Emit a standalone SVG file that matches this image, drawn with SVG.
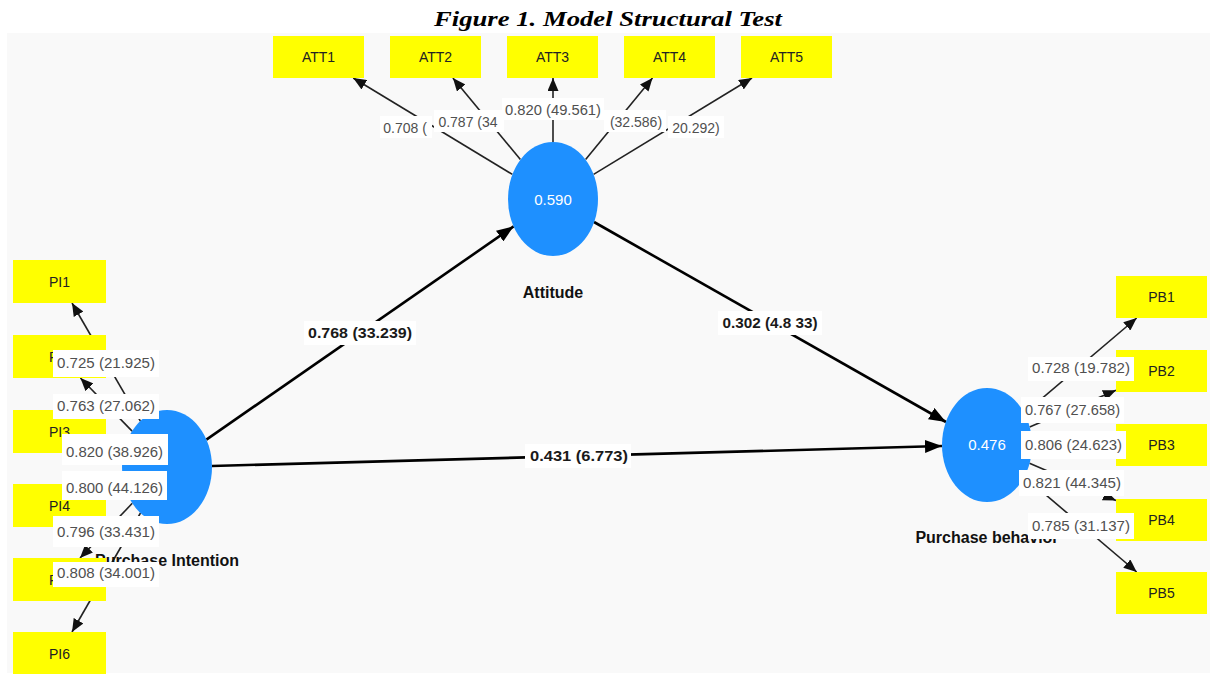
<svg xmlns="http://www.w3.org/2000/svg" width="1210" height="675" viewBox="0 0 1210 675">
<defs>
<marker id="ah" markerUnits="userSpaceOnUse" markerWidth="13" markerHeight="11" refX="13" refY="5.5" orient="auto"><path d="M0,0 L13,5.5 L0,11 z" fill="#111"/></marker>
<marker id="ahm" markerUnits="userSpaceOnUse" markerWidth="17" markerHeight="13" refX="17" refY="6.5" orient="auto"><path d="M0,0 L17,6.5 L0,13 z" fill="#000"/></marker>
</defs>
<style>
.title{font-family:"Liberation Serif",serif;font-weight:bold;font-style:italic;font-size:22px;fill:#000}
.outer{stroke:#222;stroke-width:1.6;fill:none}
.main{stroke:#000;stroke-width:2.6;fill:none}
.box{fill:#ffff00}
.lv{fill:#1e90ff}
.bt{font-family:"Liberation Sans",sans-serif;font-size:14px;fill:#222;text-anchor:middle}
.r2{font-family:"Liberation Sans",sans-serif;font-size:15px;fill:#fff;text-anchor:middle}
.nm{font-family:"Liberation Sans",sans-serif;font-weight:bold;font-size:16px;fill:#111;text-anchor:middle}
.lb{fill:#fff}
.lt{font-family:"Liberation Sans",sans-serif;font-size:14px;fill:#505050;text-anchor:middle}
.pt{font-family:"Liberation Sans",sans-serif;font-weight:bold;font-size:15px;fill:#1a1a1a;text-anchor:middle}
</style>
<rect x="0" y="0" width="1210" height="675" fill="#fff"/>
<text class="title" x="608" y="26" text-anchor="middle" textLength="348" lengthAdjust="spacingAndGlyphs">Figure 1. Model Structural Test</text>
<rect x="7" y="33" width="1203" height="640" fill="#f9f9f9"/>

<g id="connectors">
<line class="outer" x1="512.4" y1="174.4" x2="353.2" y2="78" marker-end="url(#ah)"/>
<line class="outer" x1="520.4" y1="159.6" x2="452.9" y2="78" marker-end="url(#ah)"/>
<line class="outer" x1="553" y1="142" x2="553" y2="78" marker-end="url(#ah)"/>
<line class="outer" x1="585.6" y1="159.6" x2="652.5" y2="78" marker-end="url(#ah)"/>
<line class="outer" x1="593.6" y1="174.4" x2="752" y2="78" marker-end="url(#ah)"/>
<line class="outer" x1="140.4" y1="421.1" x2="72" y2="303" marker-end="url(#ah)"/>
<line class="outer" x1="132.1" y1="431.1" x2="80.4" y2="378" marker-end="url(#ah)"/>
<line class="outer" x1="123.4" y1="452.6" x2="106" y2="446.9" marker-end="url(#ah)"/>
<line class="outer" x1="123.7" y1="482.5" x2="106" y2="488.8" marker-end="url(#ah)"/>
<line class="outer" x1="132.3" y1="503.3" x2="80" y2="558" marker-end="url(#ah)"/>
<line class="outer" x1="140.5" y1="513" x2="72" y2="632" marker-end="url(#ah)"/>
<line class="outer" x1="1024.4" y1="413.3" x2="1136.7" y2="318" marker-end="url(#ah)"/>
<line class="outer" x1="1029.6" y1="426.9" x2="1116" y2="390.3" marker-end="url(#ah)"/>
<line class="outer" x1="1032" y1="445" x2="1116" y2="445" marker-end="url(#ah)"/>
<line class="outer" x1="1029.5" y1="463.3" x2="1116" y2="500.4" marker-end="url(#ah)"/>
<line class="outer" x1="1024.4" y1="476.7" x2="1136.7" y2="572" marker-end="url(#ah)"/>
<line class="main" x1="206.4" y1="439.6" x2="513.6" y2="226.4" marker-end="url(#ahm)"/>
<line class="main" x1="212" y1="466" x2="942" y2="446" marker-end="url(#ahm)"/>
<line class="main" x1="594" y1="222" x2="946" y2="422" marker-end="url(#ahm)"/>
</g>

<g id="attitude"><ellipse class="lv" cx="553" cy="199" rx="45" ry="57"/><text class="r2" x="553" y="205">0.590</text><text class="nm" x="553" y="298">Attitude</text></g>
<g id="purchase-intention"><ellipse class="lv" cx="167" cy="467" rx="45" ry="57"/><text class="nm" x="167" y="566">Purchase Intention</text></g>
<g id="purchase-behavior"><ellipse class="lv" cx="987" cy="445" rx="45" ry="57"/><text class="r2" x="987" y="450">0.476</text><text class="nm" x="987" y="543">Purchase behavior</text></g>

<g id="ATT1"><rect class="box" x="273" y="36" width="91" height="42"/><text class="bt" x="318.5" y="62">ATT1</text></g>
<g id="ATT2"><rect class="box" x="390" y="36" width="91" height="42"/><text class="bt" x="435.5" y="62">ATT2</text></g>
<g id="ATT3"><rect class="box" x="507" y="36" width="91" height="42"/><text class="bt" x="552.5" y="62">ATT3</text></g>
<g id="ATT4"><rect class="box" x="624" y="36" width="91" height="42"/><text class="bt" x="669.5" y="62">ATT4</text></g>
<g id="ATT5"><rect class="box" x="741" y="36" width="91" height="42"/><text class="bt" x="786.5" y="62">ATT5</text></g>

<g id="PI1"><rect class="box" x="13" y="260" width="93" height="43"/><text class="bt" x="59.5" y="287">PI1</text></g>
<g id="PI2"><rect class="box" x="13" y="335" width="93" height="43"/><text class="bt" x="59.5" y="362">PI2</text></g>
<g id="PI3"><rect class="box" x="13" y="410" width="93" height="43"/><text class="bt" x="59.5" y="437">PI3</text></g>
<g id="PI4"><rect class="box" x="13" y="484" width="93" height="43"/><text class="bt" x="59.5" y="511">PI4</text></g>
<g id="PI5"><rect class="box" x="13" y="558" width="93" height="43"/><text class="bt" x="59.5" y="585">PI5</text></g>
<g id="PI6"><rect class="box" x="13" y="632" width="93" height="42"/><text class="bt" x="59.5" y="659">PI6</text></g>

<g id="PB1"><rect class="box" x="1116" y="276" width="91" height="42"/><text class="bt" x="1161.5" y="302">PB1</text></g>
<g id="PB2"><rect class="box" x="1116" y="350" width="91" height="42"/><text class="bt" x="1161.5" y="376">PB2</text></g>
<g id="PB3"><rect class="box" x="1116" y="424" width="91" height="42"/><text class="bt" x="1161.5" y="450">PB3</text></g>
<g id="PB4"><rect class="box" x="1116" y="499" width="91" height="42"/><text class="bt" x="1161.5" y="525">PB4</text></g>
<g id="PB5"><rect class="box" x="1116" y="572" width="91" height="42"/><text class="bt" x="1161.5" y="598">PB5</text></g>

<g id="labels">
<rect class="lb" x="380" y="116" width="52" height="22"/><text class="lt" x="405" y="133">0.708 (</text>
<rect class="lb" x="668" y="116" width="56" height="22"/><text class="lt" x="696" y="133">20.292)</text>
<rect class="lb" x="434" y="110" width="70" height="22"/><text class="lt" x="468" y="127">0.787 (34</text>
<rect class="lb" x="604" y="110" width="62" height="22"/><text class="lt" x="636" y="127">(32.586)</text>
<rect class="lb" x="502" y="98" width="102" height="22"/><text class="lt" x="553" y="115" textLength="96" lengthAdjust="spacingAndGlyphs">0.820 (49.561)</text>

<rect class="lb" x="53" y="350" width="106" height="27"/><text class="lt" x="106" y="368" textLength="98" lengthAdjust="spacingAndGlyphs">0.725 (21.925)</text>
<rect class="lb" x="53" y="394" width="106" height="25"/><text class="lt" x="106" y="411" textLength="98" lengthAdjust="spacingAndGlyphs">0.763 (27.062)</text>
<rect class="lb" x="62" y="434" width="106" height="31"/><text class="lt" x="114.5" y="457" textLength="97" lengthAdjust="spacingAndGlyphs">0.820 (38.926)</text>
<rect class="lb" x="62" y="471" width="105" height="29"/><text class="lt" x="114.5" y="493" textLength="97" lengthAdjust="spacingAndGlyphs">0.800 (44.126)</text>
<rect class="lb" x="53" y="516" width="106" height="31"/><text class="lt" x="106" y="537" textLength="98" lengthAdjust="spacingAndGlyphs">0.796 (33.431)</text>
<rect class="lb" x="53" y="562" width="106" height="25"/><text class="lt" x="106" y="578" textLength="98" lengthAdjust="spacingAndGlyphs">0.808 (34.001)</text>

<rect class="lb" x="1028" y="357" width="106" height="24"/><text class="lt" x="1081" y="373" textLength="98" lengthAdjust="spacingAndGlyphs">0.728 (19.782)</text>
<rect class="lb" x="1021" y="397" width="103" height="26"/><text class="lt" x="1072.5" y="415" textLength="95" lengthAdjust="spacingAndGlyphs">0.767 (27.658)</text>
<rect class="lb" x="1021" y="431" width="105" height="28"/><text class="lt" x="1073.5" y="450" textLength="97" lengthAdjust="spacingAndGlyphs">0.806 (24.623)</text>
<rect class="lb" x="1019" y="470" width="105" height="26"/><text class="lt" x="1072" y="488" textLength="98" lengthAdjust="spacingAndGlyphs">0.821 (44.345)</text>
<rect class="lb" x="1028" y="513" width="106" height="26"/><text class="lt" x="1081" y="531" textLength="98" lengthAdjust="spacingAndGlyphs">0.785 (31.137)</text>

<rect class="lb" x="304" y="321" width="112" height="24"/><text class="pt" x="360" y="338" textLength="104" lengthAdjust="spacingAndGlyphs">0.768 (33.239)</text>
<rect class="lb" x="525" y="444" width="106" height="24"/><text class="pt" x="579" y="461" textLength="98" lengthAdjust="spacingAndGlyphs">0.431 (6.773)</text>
<rect class="lb" x="718" y="311" width="104" height="24"/><text class="pt" x="770" y="328" textLength="95" lengthAdjust="spacingAndGlyphs">0.302 (4.8 33)</text>
</g>
</svg>
